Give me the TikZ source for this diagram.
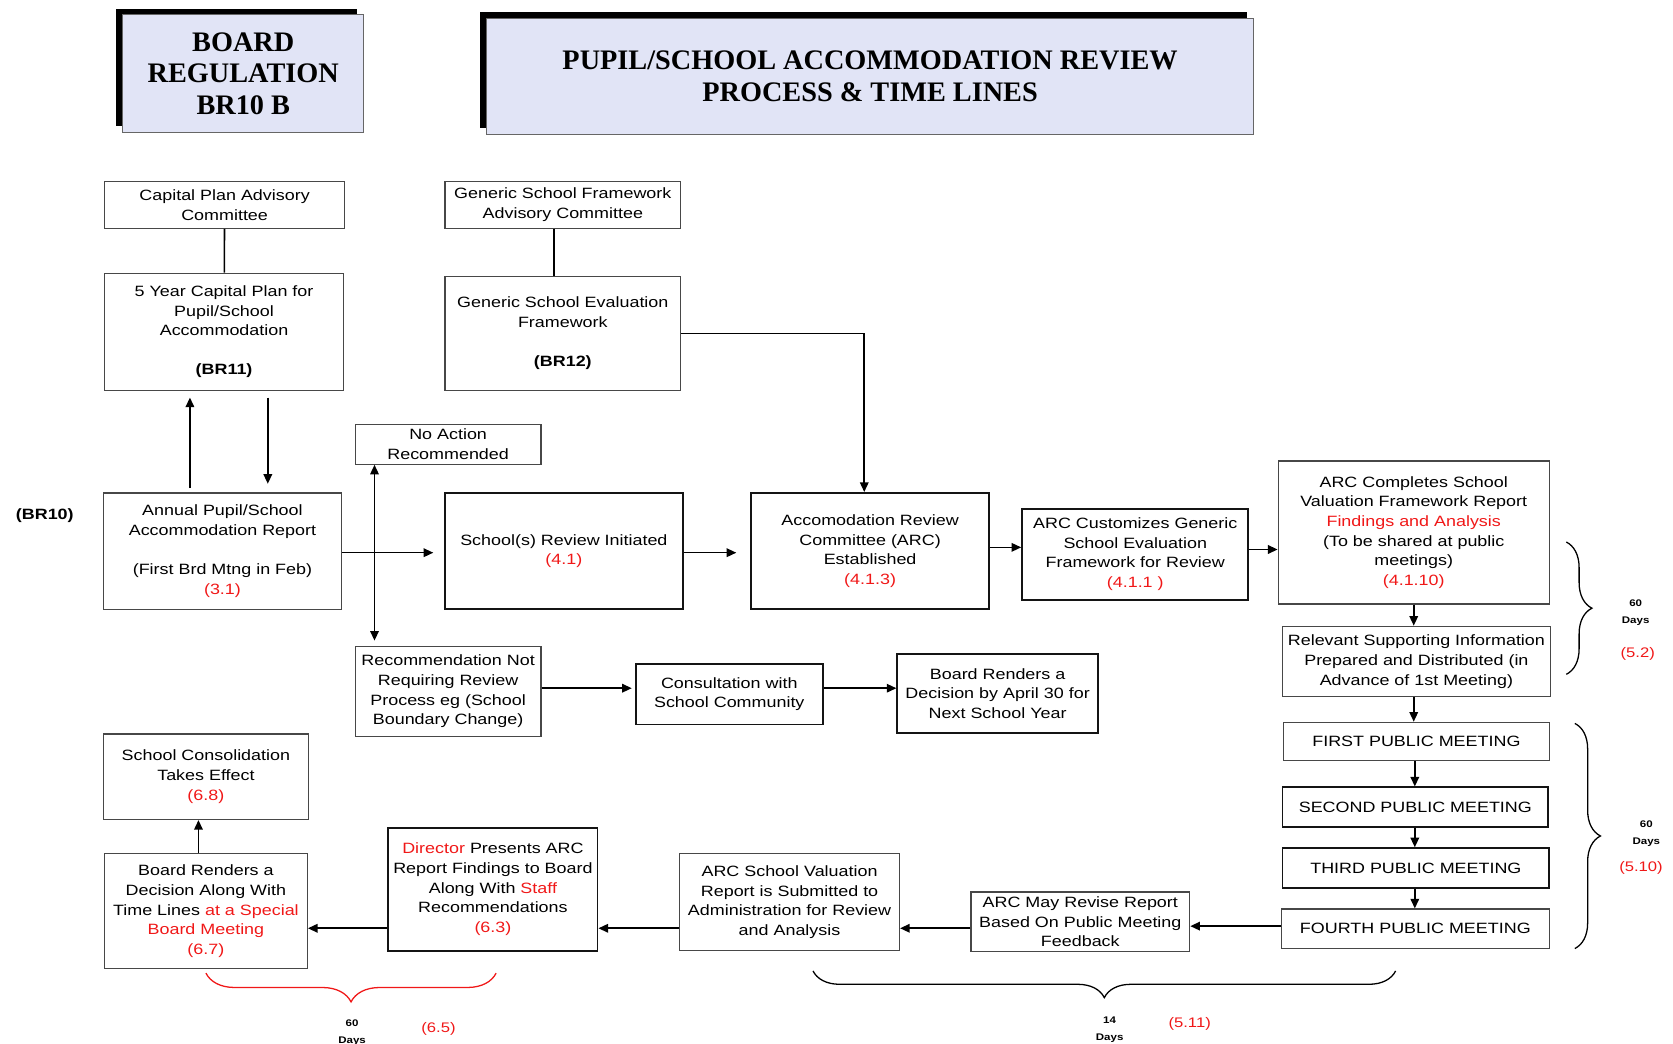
\documentclass[tikz,border=0pt]{standalone}
\usepackage{fontspec}
\setmainfont{Liberation Sans}
\newfontfamily\boxfont[FakeStretch=1.2]{Liberation Sans}
\newfontfamily\titlefont{Liberation Serif}
\usetikzlibrary{arrows.meta,decorations.pathreplacing,calc}
\definecolor{lav}{HTML}{E1E4F6}
\definecolor{rd}{HTML}{F01818}
\newcommand{\rt}[1]{\textcolor{rd}{#1}}
\begin{document}
\begin{tikzpicture}[x=1pt,y=-1pt,
 >={Triangle[length=9pt,width=8pt]},
 box/.style={draw=black!72, line width=1.2pt, align=center, inner sep=0pt, font=\boxfont\fontsize{14}{18.4}\selectfont},
 tbox/.style={box, draw=black!92, line width=1.8pt},
 ttl/.style={draw=black!60, line width=1pt, fill=lav, align=center, inner sep=0pt, font=\titlefont\bfseries\fontsize{26.5}{29.6}\selectfont},
 arr/.style={line width=1.5pt, ->},
 ln/.style={line width=1.5pt},
 brc/.style={decorate, decoration={brace, amplitude=#1}, line width=1.2pt},
 lbl/.style={inner sep=0pt, align=center, font=\boxfont\bfseries\fontsize{9}{16}\selectfont},
 rlbl/.style={inner sep=0pt, text=rd, font=\boxfont\fontsize{13}{16}\selectfont}
]
\useasboundingbox (0,0) rectangle (1568,978);

% title boxes with shadows
\fill[black] (109,8) rectangle (335,118);
\node[ttl, minimum width=226pt, minimum height=110pt] (board) at (228,69) {BOARD\\REGULATION\\BR10 B};
\fill[black] (450,11) rectangle (1169,120);
\node[ttl, minimum width=719pt, minimum height=109pt] (title) at (815.5,71.5) {PUPIL/SCHOOL ACCOMMODATION REVIEW\\PROCESS \& TIME LINES};

% helper coordinates
\coordinate (k178) at (178,0);
\coordinate (k186) at (186,0);
\coordinate (k251) at (251,0);
\coordinate (k351) at (351,0);
\coordinate (k519) at (519,0);
\coordinate (k810) at (810,0);
\coordinate (k1325) at (1325,0);
\coordinate (k1326) at (1326,0);
\coordinate (k513) at (0,513);
\coordinate (k515) at (0,515);
\coordinate (k518) at (0,518);
\coordinate (k645) at (0,645);
\coordinate (k868) at (0,868);
\coordinate (k870) at (0,870);

% nodes
\node[box, minimum width=225pt, minimum height=44pt] (cap) at (210.5,192) {Capital Plan Advisory\\Committee};
\node[box, minimum width=224pt, minimum height=110pt] (fivey) at (210,311) {5 Year Capital Plan for\\Pupil/School\\Accommodation\\[18.4pt]\textbf{(BR11)}};
\node[box, minimum width=221pt, minimum height=44pt] (gsfac) at (527.5,192) {Generic School Framework\\Advisory Committee};
\node[box, minimum width=221pt, minimum height=107pt] (gsef) at (527.5,312.5) {Generic School Evaluation\\Framework\\[18.4pt]\textbf{(BR12)}};
\node[box, minimum width=223pt, minimum height=109pt] (annual) at (208.5,516.5) {Annual Pupil/School\\Accommodation Report\\[18.4pt](First Brd Mtng in Feb)\\\rt{(3.1)}};
\node[inner sep=0pt, font=\boxfont\bfseries\fontsize{14}{16}\selectfont] (br10) at (42,483) {(BR10)};
\node[box, minimum width=174pt, minimum height=37pt] (noact) at (420,416.5) {No Action\\Recommended};
\node[tbox, minimum width=223pt, minimum height=109pt] (review) at (528.5,516.5) {School(s) Review Initiated\\\rt{(4.1)}};
\node[tbox, minimum width=223pt, minimum height=109pt] (arcest) at (815.5,516.5) {Accomodation Review\\Committee (ARC)\\Established\\\rt{(4.1.3)}};
\node[tbox, minimum width=212pt, minimum height=85pt] (custom) at (1064,519.5) {ARC Customizes Generic\\School Evaluation\\Framework for Review\\\rt{(4.1.1 )}};
\node[box, minimum width=254pt, minimum height=134pt] (complete) at (1325,499) {ARC Completes School\\Valuation Framework Report\\\rt{Findings and Analysis}\\(To be shared at public\\meetings)\\\rt{(4.1.10)}};
\node[box, minimum width=251pt, minimum height=66pt] (relevant) at (1327.5,620) {Relevant Supporting Information\\Prepared and Distributed (in\\Advance of 1st Meeting)};
\node[box, minimum width=249pt, minimum height=36pt] (first) at (1327.5,695) {FIRST PUBLIC MEETING};
\node[tbox, minimum width=249pt, minimum height=37pt] (second) at (1326.5,756.5) {SECOND PUBLIC MEETING};
\node[tbox, minimum width=250pt, minimum height=37pt] (third) at (1327,813.5) {THIRD PUBLIC MEETING};
\node[box, minimum width=251pt, minimum height=37pt] (fourth) at (1326.5,870.5) {FOURTH PUBLIC MEETING};
\node[box, minimum width=205pt, minimum height=56pt] (revise) at (1012.5,864) {ARC May Revise Report\\Based On Public Meeting\\Feedback};
\node[box, minimum width=206pt, minimum height=91pt] (submit) at (740,845.5) {ARC School Valuation\\Report is Submitted to\\Administration for Review\\and Analysis};
\node[tbox, minimum width=196pt, minimum height=115pt] (director) at (462,833.5) {\rt{Director} Presents ARC\\Report Findings to Board\\Along With \rt{Staff}\\Recommendations\\\rt{(6.3)}};
\node[box, minimum width=190pt, minimum height=108pt] (decide) at (193,854) {Board Renders a\\Decision Along With\\Time Lines \rt{at a Special}\\\rt{Board Meeting}\\\rt{(6.7)}};
\node[box, minimum width=192pt, minimum height=80pt] (consol) at (193,728) {School Consolidation\\Takes Effect\\\rt{(6.8)}};
\node[box, minimum width=174pt, minimum height=84pt] (recnot) at (420,648) {Recommendation Not\\Requiring Review\\Process eg (School\\Boundary Change)};
\node[tbox, minimum width=175pt, minimum height=57pt] (consult) at (683.5,650.5) {Consultation with\\School Community};
\node[tbox, minimum width=188pt, minimum height=74pt] (april) at (935,650) {Board Renders a\\Decision by April 30 for\\Next School Year};

% connectors
\draw[ln] (cap) -- (fivey);
\draw[ln] (gsfac.south -| k519) -- (gsef.north -| k519);
\draw[arr] (gsef.east) -| (arcest.north -| k810);
\draw[arr, shorten <=4pt, shorten >=6pt] (annual.north -| k178) -- (fivey.south -| k178);
\draw[arr, shorten <=6pt, shorten >=8pt] (fivey.south -| k251) -- (annual.north -| k251);
\draw[arr, shorten >=10pt] (annual.east |- k518) -- (review.west |- k518);
\draw[ln, <->, shorten >=5pt] (noact.south -| k351) -- (recnot.north -| k351);
\draw[arr, shorten >=13pt] (review.east |- k518) -- (arcest.west |- k518);
\draw[arr] (arcest.east |- k513) -- (custom.west |- k513);
\draw[arr] (custom.east |- k515) -- (complete.west |- k515);
\draw[arr] (complete.south -| k1325) -- (relevant.north -| k1325);
\draw[arr] (relevant.south -| k1325) -- (first.north -| k1325);
\draw[arr] (first.south -| k1326) -- (second.north -| k1326);
\draw[arr] (second.south -| k1326) -- (third.north -| k1326);
\draw[arr] (third.south -| k1326) -- (fourth.north -| k1326);
\draw[arr] (fourth.west |- k868) -- (revise.east |- k868);
\draw[arr] (revise.west |- k870) -- (submit.east |- k870);
\draw[arr] (submit.west |- k870) -- (director.east |- k870);
\draw[arr] (director.west |- k870) -- (decide.east |- k870);
\draw[arr] (decide.north -| k186) -- (consol.south -| k186);
\draw[arr, shorten >=3pt] (recnot.east |- k645) -- (consult.west |- k645);
\draw[arr] (consult.east |- k645) -- (april.west |- k645);

% braces
\draw[brc=24pt] (1468,508) -- (1468,632);
\draw[brc=24pt] (1476,678) -- (1476,889);
\draw[brc=25pt] (1308,910) -- (762,910);
\draw[brc=27pt, draw=rd] (465,912) -- (193,912);

% labels
\node[lbl] (d1) at (1533,574) {60\\Days};
\node[rlbl] (r1) at (1535,613) {(5.2)};
\node[lbl] (d2) at (1543,781.5) {60\\Days};
\node[rlbl] (r2) at (1538,813) {(5.10)};
\node[lbl] (d3) at (330,967.5) {60\\Days};
\node[rlbl] (r3) at (411,964) {(6.5)};
\node[lbl] (d4) at (1040,965) {14\\Days};
\node[rlbl] (r4) at (1115,960) {(5.11)};
\end{tikzpicture}
\end{document}
